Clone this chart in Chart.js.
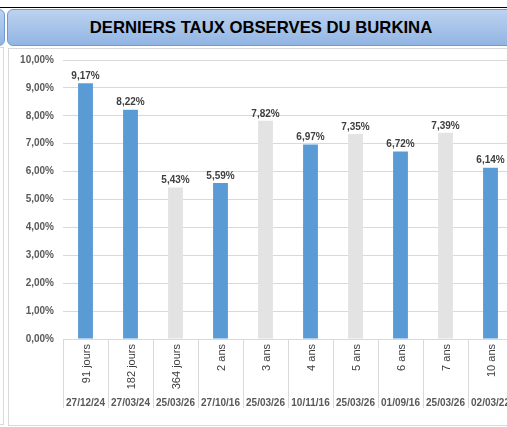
<!DOCTYPE html>
<html>
<head>
<meta charset="utf-8">
<script src="https://cdn.jsdelivr.net/npm/chart.js@4"></script>
<style>
  html, body { margin: 0; padding: 0; width: 507px; height: 427px; overflow: hidden; background: #fff; font-family: "Liberation Sans", Arial, sans-serif; }
  .topline { position: absolute; left: 0; top: 7px; width: 507px; height: 1px; background: #000; }
  .tab { position: absolute; left: -8px; top: 9px; width: 11px; height: 35px; border: 1px solid #6d9ad6; border-radius: 6px;
         background: linear-gradient(#bcd2f0, #92b5e3); }
  .banner { position: absolute; left: 7px; top: 9px; width: 520px; height: 35px; border: 1px solid #6d9ad6; border-radius: 6px;
            background: linear-gradient(#bcd2f0, #92b5e3); }
  .banner span { position: absolute; left: 0; width: 506px; top: 0; line-height: 36px; text-align: center;
                 font-weight: bold; font-size: 16.7px; color: #000; }
  .outer { position: absolute; left: -10px; top: 47px; width: 12px; height: 376px; border: 1px solid #d9d9d9; }
  .frame { position: absolute; left: 8px; top: 48px; width: 520px; height: 376px; border: 1px solid #d9d9d9; background: #fff; }
  canvas { position: absolute; left: 0; top: 0; }
</style>
</head>
<body>
<div class="topline"></div>
<div class="tab"></div>
<div class="banner"><span>DERNIERS TAUX OBSERVES DU BURKINA</span></div>
<div class="outer"></div>
<div class="frame"></div>
<canvas id="tauxChart" width="530" height="427" style="width:530px;height:427px"></canvas>
<script>
// Maturités et dates d'émission
const maturites = ['91 jours', '182 jours', '364 jours', '2 ans', '3 ans', '4 ans', '5 ans', '6 ans', '7 ans', '10 ans'];
const dates = ['27/12/24', '27/03/24', '25/03/26', '27/10/16', '25/03/26', '10/11/16', '25/03/26', '01/09/16', '25/03/26', '02/03/22'];
const taux = [9.17, 8.22, 5.43, 5.59, 7.82, 6.97, 7.35, 6.72, 7.39, 6.14];
const estimes = [false, false, true, false, true, false, true, false, true, false];
const yTicks = [0, 1, 2, 3, 4, 5, 6, 7, 8, 9, 10];

const fmt = v => v.toFixed(2).replace('.', ',') + '%';

// valeurs au-dessus des barres + étiquettes sur deux niveaux
const labelsPlugin = {
    id: 'labelsPlugin',
    afterDraw(chart) {
        const ctx = chart.ctx;
        const meta = chart.getDatasetMeta(0);
        const xScale = chart.scales.x;
        ctx.save();
        ctx.font = 'bold 10px "Liberation Sans", Arial, sans-serif';
        ctx.fillStyle = '#404040';
        ctx.textAlign = 'center';
        ctx.textBaseline = 'bottom';
        meta.data.forEach((bar, i) => {
            ctx.fillText(fmt(taux[i]), bar.x, bar.y - 2);
        });

        maturites.forEach((m, i) => {
            const x = xScale.getPixelForValue(i);
            ctx.save();
            ctx.translate(x + 1, 344);
            ctx.rotate(-Math.PI / 2);
            ctx.font = '11px "Liberation Sans", Arial, sans-serif';
            ctx.fillStyle = '#404040';
            ctx.textAlign = 'right';
            ctx.textBaseline = 'middle';
            ctx.fillText(m, 0, 0);
            ctx.restore();

            ctx.font = 'bold 10px "Liberation Sans", Arial, sans-serif';
            ctx.fillStyle = '#595959';
            ctx.textAlign = 'center';
            ctx.textBaseline = 'middle';
            ctx.fillText(dates[i], x, 403);
        });
        ctx.restore();
    }
};

const ctx = document.getElementById('tauxChart').getContext('2d');
new Chart(ctx, {
    type: 'bar',
    data: {
        labels: maturites,
        datasets: [{
            data: taux,
            backgroundColor: estimes.map(e => e ? '#e3e3e3' : '#5b9bd5'),
            categoryPercentage: 1,
            barPercentage: 0.33
        }]
    },
    options: {
        responsive: false,
        animation: false,
        layout: { padding: { top: 60, right: 17, left: 0, bottom: 0 } },
        plugins: {
            legend: { display: false },
            tooltip: { enabled: false }
        },
        scales: {
            x: {
                offset: true,
                grid: {
                    offset: true,
                    drawOnChartArea: false,
                    drawTicks: true,
                    tickLength: 69,
                    color: '#d9d9d9'
                },
                border: { display: false },
                ticks: { display: false },
                afterFit(scale) { scale.height = 88; }
            },
            y: {
                min: 0,
                max: 10,
                afterBuildTicks(scale) { scale.ticks = yTicks.map(v => ({ value: v })); },
                grid: { color: '#d9d9d9', drawTicks: false },
                border: { display: false },
                ticks: {
                    padding: 9,
                    color: '#595959',
                    font: { family: '"Liberation Sans", Arial, sans-serif', size: 10, weight: 'bold' },
                    callback: v => fmt(v)
                },
                afterFit(scale) { scale.width = 63; }
            }
        }
    },
    plugins: [labelsPlugin]
});
</script>
</body>
</html>
